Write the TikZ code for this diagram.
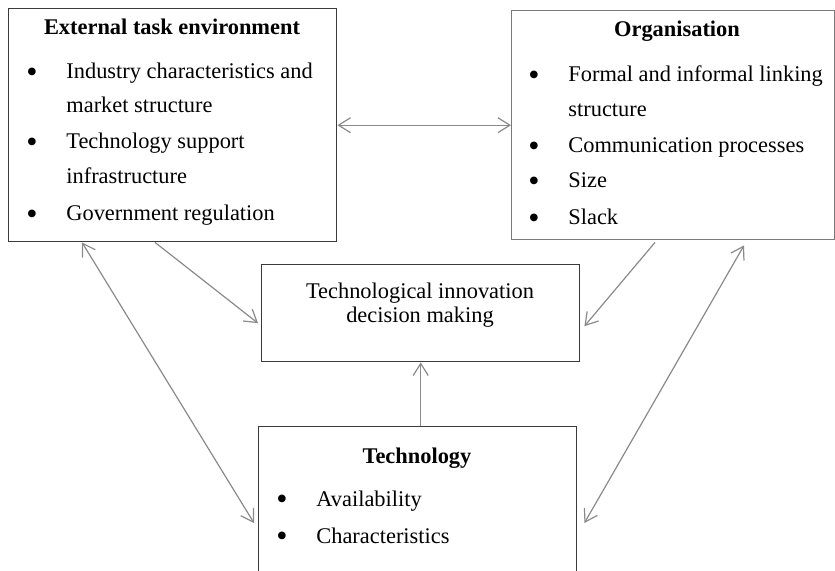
\documentclass[tikz,border=0pt]{standalone}
\usepackage{fontspec}
\setmainfont{Liberation Serif}
\usepackage{xcolor}
\usetikzlibrary{arrows.meta, calc}
\definecolor{framedark}{HTML}{3A3A3A}
\definecolor{framelight}{HTML}{7A7A7A}
\definecolor{arrowgray}{HTML}{8A8A8A}
\newcommand{\bodysize}{\fontsize{11.2}{13}\selectfont}

\begin{document}
\begin{tikzpicture}[x=0.5pt, y=-0.5pt,
          box/.style={rectangle, draw=framedark, line width=0.7pt,
                      anchor=north west, inner sep=0pt},
          head/.style={anchor=base, inner sep=0pt, font=\bodysize\bfseries},
          item/.style={anchor=base west, inner sep=0pt, font=\bodysize},
          mid/.style={anchor=base, inner sep=0pt, font=\bodysize},
          bul/.style={anchor=center, inner sep=0pt, font=\fontsize{16}{16}\selectfont},
          arr/.style={-{Straight Barb[length=6pt,width=7.5pt]},
                      arrowgray, line width=0.6pt},
          dblarr/.style={{Straight Barb[length=6pt,width=7.5pt]}-{Straight Barb[length=6pt,width=7.5pt]},
                         arrowgray, line width=0.6pt}
        ]
        \useasboundingbox (0,0) rectangle (835,571);
        %% Frames
        \node[box, minimum width=164pt, minimum height=116.5pt] (ext) at (8,8) {};
        \node[box, draw=framelight, minimum width=161.5pt, minimum height=114.5pt] (org) at (511,10) {};
        \node[box, minimum width=159pt, minimum height=48.5pt] (tid) at (261,264) {};
        \node[box, minimum width=159pt, minimum height=82pt] (tech) at (258,426) {};
        %% External task environment
        \node[head] (ext-head) at (172,35) {External task environment};
        \node[bul] (ext-b1) at (32,75) {\textbullet};
        \node[item] (ext-i1) at (66,79) {Industry characteristics and};
        \node[item] (ext-i1b) at (66,113) {market structure};
        \node[bul] (ext-b2) at (32,145) {\textbullet};
        \node[item] (ext-i2) at (66,149) {Technology support};
        \node[item] (ext-i2b) at (66,184) {infrastructure};
        \node[bul] (ext-b3) at (32,217) {\textbullet};
        \node[item] (ext-i3) at (66,221) {Government regulation};
        %% Organisation
        \node[head] (org-head) at (677,37) {Organisation};
        \node[bul] (org-b1) at (534,78) {\textbullet};
        \node[item] (org-i1) at (568,82) {Formal and informal linking};
        \node[item] (org-i1b) at (568,117) {structure};
        \node[bul] (org-b2) at (534,149) {\textbullet};
        \node[item] (org-i2) at (568,153) {Communication processes};
        \node[bul] (org-b3) at (534,184) {\textbullet};
        \node[item] (org-i3) at (568,188) {Size};
        \node[bul] (org-b4) at (534,221) {\textbullet};
        \node[item] (org-i4) at (568,225) {Slack};
        %% Decision making
        \node[mid] (tid-1) at (420,299) {Technological innovation};
        \node[mid] (tid-2) at (420,323) {decision making};
        %% Technology
        \node[head] (tech-head) at (417,463) {Technology};
        \node[bul] (tech-b1) at (282,502) {\textbullet};
        \node[item] (tech-i1) at (316,506) {Availability};
        \node[bul] (tech-b2) at (282,539) {\textbullet};
        \node[item] (tech-i2) at (316,543) {Characteristics};
        %% Links
        \draw[dblarr] (ext.east) -- (org.west);
        \draw[arr] ($(ext.south west)+(147,0)$) -- ($(tid.west)+(-3,10)$);
        \draw[arr] ($(org.south west)+(144,2)$) -- ($(tid.east)+(4,13)$);
        \draw[arr] (tech.north -| tid.south) -- (tid.south);
        \draw[dblarr] ($(ext.south west)+(74,0)$) -- ($(tech.north west)+(-4,97)$);
        \draw[dblarr] ($(org.south west)+(233,5)$) -- ($(tech.north east)+(7,97)$);
\end{tikzpicture}
\end{document}
